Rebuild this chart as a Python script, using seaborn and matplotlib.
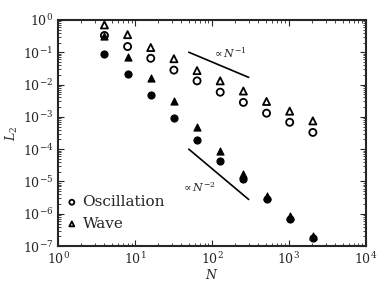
import numpy as np
import pandas as pd
import matplotlib
matplotlib.use('Agg')
import matplotlib.pyplot as plt
import seaborn as sns

# Dados
N = [4, 8, 16, 32, 64, 128, 256, 512, 1024, 2048]
osc_open = [0.33, 0.15, 0.065, 0.028, 0.013, 0.0058, 0.0028, 0.0013, 6.8e-4, 3.3e-4]
wave_open = [0.70, 0.35, 0.14, 0.063, 0.027, 0.013, 0.0063, 0.0030, 0.0015, 7.5e-4]
osc_filled = [0.09, 0.021, 0.0046, 9.0e-4, 1.9e-4, 4.4e-5, 1.2e-5, 2.8e-6, 7.0e-7, 1.75e-7]
wave_filled = [0.32, 0.07, 0.016, 0.0031, 5.0e-4, 8.8e-5, 1.7e-5, 3.5e-6, 8.5e-7, 2.0e-7]

# Retas de referência
ref_N = [50, 300]
ref1 = [0.1, 0.1 * 50 / 300]
ref2 = [1e-4, 1e-4 * (50 / 300) ** 2]

sns.set_style('ticks')
plt.rcParams['font.family'] = ['DejaVu Serif']
plt.rcParams['mathtext.fontset'] = 'dejavuserif'
plt.rcParams['xtick.direction'] = 'in'
plt.rcParams['ytick.direction'] = 'in'

fig = plt.figure(figsize=(3.9, 2.93), dpi=100)
ax = fig.add_axes([0.149, 0.160, 0.789, 0.772])

df = pd.DataFrame({'N': N, 'osc_open': osc_open, 'wave_open': wave_open,
                   'osc_filled': osc_filled, 'wave_filled': wave_filled})

ms = 26
sns.scatterplot(data=df, x='N', y='osc_filled', marker='o', color='black', s=ms,
                edgecolor='black', linewidth=0.8, ax=ax)
sns.scatterplot(data=df, x='N', y='wave_filled', marker='^', color='black', s=ms,
                edgecolor='black', linewidth=0.8, ax=ax)
sns.scatterplot(data=df, x='N', y='osc_open', marker='o', facecolor='none', s=ms,
                edgecolor='black', linewidth=1.3, ax=ax, label='Oscillation')
sns.scatterplot(data=df, x='N', y='wave_open', marker='^', facecolor='none', s=ms,
                edgecolor='black', linewidth=1.3, ax=ax, label='Wave')

ax.plot(ref_N, ref1, color='black', lw=1.2)
ax.plot(ref_N, ref2, color='black', lw=1.2)
ax.text(170, 0.1, r'$\propto N^{-1}$', fontsize=8, ha='center', va='center')
ax.text(66, 6.5e-6, r'$\propto N^{-2}$', fontsize=8, ha='center', va='center')

ax.set_xscale('log')
ax.set_yscale('log')
ax.set_xlim(1, 1e4)
ax.set_ylim(1e-7, 1)
ax.set_xlabel(r'$N$', fontsize=9, labelpad=1)
ax.set_ylabel(r'$L_2$', fontsize=9, labelpad=2)
ax.tick_params(labelsize=9, which='both', top=True, right=True)
ax.tick_params(which='major', length=4)
ax.tick_params(which='minor', length=2)
for sp in ax.spines.values():
    sp.set_linewidth(1.5)

ax.legend(loc='lower left', bbox_to_anchor=(-0.015, 0.02), frameon=False, fontsize=11,
          markerscale=0.7, handletextpad=0.2, borderaxespad=0.3, labelspacing=0.5,
          handlelength=1.0)

fig.savefig('out.png', dpi=100)
